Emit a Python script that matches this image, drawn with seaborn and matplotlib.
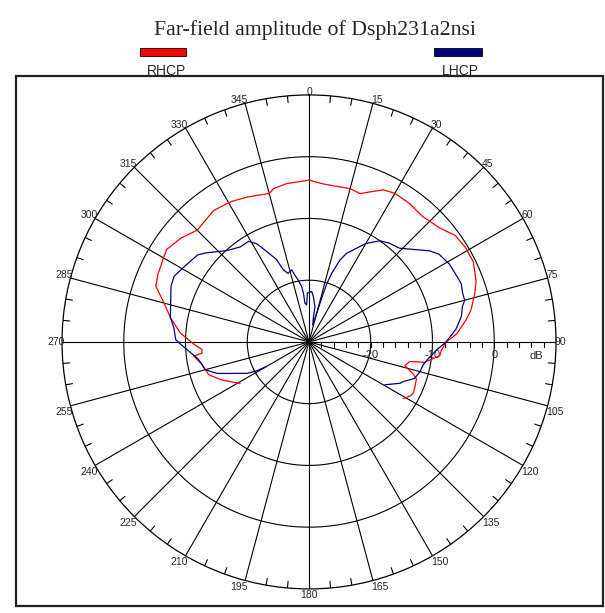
import numpy as np
import pandas as pd
import matplotlib
matplotlib.use("Agg")
import matplotlib.pyplot as plt
import seaborn as sns
from matplotlib.patches import Rectangle
from matplotlib.markers import TICKDOWN

# Диаграмма направленности (угол в градусах, уровень в дБ)
rhcp_angle = [-121, -118, -113, -108, -102, -97, -96, -94, -91, -86, -80, -75, -70, -66,
              -60, -57, -51, -45, -36, -29, -23, -15, -13, -8, 0, 5, 9, 15, 19, 22, 26,
              30, 36, 42, 49, 54, 59, 64, 70, 74, 79, 82, 87, 90, 93.5, 96, 98, 100,
              101, 104, 107, 109, 114, 116, 118, 121]
rhcp_db = [-17.0, -16.1, -14.4, -12.9, -12.3, -11.2, -12.6, -12.6, -11.3, -9.1, -7.2, -5.7,
           -3.6, -3.2, -2.8, -2.5, -3.3, -4.4, -3.7, -4.0, -4.5, -5.1, -4.5, -4.1, -3.8,
           -4.3, -4.4, -4.3, -4.6, -3.8, -2.6, -2.2, -2.3, -2.6, -1.9, -0.7, -0.4, -0.4,
           -1.2, -2.1, -3.3, -4.3, -6.1, -7.8, -8.5, -8.7, -9.9, -11.0, -13.4, -14.0,
           -12.4, -11.6, -11.3, -11.2, -11.4, -12.2]

lhcp_angle = [-120, -119, -117, -109, -105, -99, -95, -91, -89, -84, -80, -68, -64, -59,
              -52, -49, -42, -36, -31, -28, -24, -21.5, -19.6, -17, -13.5, -12, -10, -7.5,
              -6.5, -6, -3.6, -2, 3, 5.4, 9.6, 10, 12.3, 15, 16.4, 17, 18.3, 20.7, 23, 30,
              35, 39, 44, 53, 56, 61, 66, 69, 72.5, 75, 77, 80.6, 85, 90, 93.6, 98, 101,
              105, 109, 113, 114.4, 119.5]
lhcp_db = [-22.1, -20.4, -18.8, -14.3, -12.6, -11.9, -10.7, -9.2, -8.4, -8.0, -7.2, -5.9,
           -5.7, -6.4, -7.1, -8.0, -10.1, -11.0, -11.0, -12.0, -14.4, -15.7, -17.6, -18.4,
           -18.0, -18.9, -19.8, -21.0, -22.1, -23.7, -24.0, -22.1, -21.8, -22.6, -24.2,
           -25.8, -27.2, -25.2, -21.8, -20.1, -18.3, -15.8, -14.4, -11.6, -10.0, -9.4,
           -8.9, -5.5, -4.6, -4.0, -3.8, -3.6, -3.9, -3.9, -4.5, -5.0, -6.1, -7.8, -9.3,
           -10.5, -11.1, -11.4, -11.9, -13.5, -13.8, -15.9]

angle_ticks = list(range(0, 360, 15))
ring_levels = [-20, -10, 0]
ring_labels = ["-20", "-10", "0"]
r_min, r_max = -30, 10

df = pd.concat([
    pd.DataFrame({"theta": np.deg2rad(rhcp_angle), "dB": rhcp_db, "pol": "RHCP"}),
    pd.DataFrame({"theta": np.deg2rad(lhcp_angle), "dB": lhcp_db, "pol": "LHCP"}),
], ignore_index=True)

sns.set_theme(style="white")
plt.rcParams["font.family"] = ["Liberation Sans", "DejaVu Sans"]

fig = plt.figure(figsize=(6.05, 6.13), dpi=100)
ax = fig.add_axes([0.1025, 0.0392, 0.8165, 0.806], projection="polar")
ax.set_theta_zero_location("N")
ax.set_theta_direction(-1)
ax.set_ylim(r_min, r_max)
ax.set_xticks([])
ax.set_yticks([])
ax.grid(False)
ax.spines["polar"].set_color("black")
ax.spines["polar"].set_linewidth(0.9)

# сетка: окружности и лучи
full = np.linspace(0, 2 * np.pi, 721)
for lev in ring_levels:
    ax.plot(full, np.full_like(full, lev), color="black", lw=0.8, zorder=1)
for a in angle_ticks:
    t = np.deg2rad(a)
    ax.plot([t, t], [r_min, r_max], color="black", lw=0.8, zorder=1)
for a in range(0, 360, 5):
    if a % 15:
        t = np.deg2rad(a)
        ax.plot([t, t], [r_max - 1.1, r_max], color="black", lw=0.8, zorder=1)

# метки углов: привязка к точке на внешней окружности
for a in angle_ticks:
    t = np.deg2rad(a)
    s, c = np.sin(t), np.cos(t)
    if s > 0.1:
        ha, dx = "left", -1.5
    elif s < -0.1:
        ha, dx = "right", 2.5
    else:
        ha, dx = "center", 0
    if c > 0.1:
        va, dy = "baseline", 0
    elif c < -0.1:
        va, dy = "top", -1.5
    else:
        va, dy = "center", 0
    ax.annotate(str(a), xy=(t, r_max), xytext=(dx, dy), textcoords="offset pixels",
                ha=ha, va=va, fontsize=7.5)

# шкала дБ вдоль 90°
db_ticks = np.arange(-28, 10, 2)
ax.plot(np.full(len(db_ticks), np.pi / 2), db_ticks, ls="none", marker=TICKDOWN,
        ms=3.5, mew=0.8, color="black", zorder=1)
for lev, lab in zip(ring_levels, ring_labels):
    ax.annotate(lab, xy=(np.pi / 2, lev), xytext=(0, -5.5), textcoords="offset points",
                ha="center", va="top", fontsize=8)
ax.annotate("dB", xy=(np.pi / 2, 6.8), xytext=(0, -6.5), textcoords="offset points",
            ha="center", va="top", fontsize=8)

sns.lineplot(data=df, x="theta", y="dB", hue="pol", sort=False, estimator=None,
             palette={"RHCP": "#ff0000", "LHCP": "#000080"}, linewidth=0.9,
             legend=False, ax=ax, zorder=3)
ax.set_xlabel("")
ax.set_ylabel("")

# рамка, заголовок и легенда
fig.patches.append(Rectangle((0.0264, 0.0114), 0.970, 0.8646, transform=fig.transFigure,
                             fill=False, edgecolor="#222222", lw=1.6))
fig.text(0.52, 0.943, "Far-field amplitude of Dsph231a2nsi", ha="center", va="baseline",
         fontsize=15.7, family=["Liberation Serif", "DejaVu Serif"])
fig.patches.append(Rectangle((0.2314, 0.9087), 0.076, 0.013, transform=fig.transFigure,
                             facecolor="#ff0000", edgecolor="black", lw=0.6))
fig.patches.append(Rectangle((0.7174, 0.9087), 0.0793, 0.013, transform=fig.transFigure,
                             facecolor="#000080", edgecolor="black", lw=0.6))
fig.text(0.2744, 0.8842, "RHCP", ha="center", va="center", fontsize=10)
fig.text(0.7603, 0.8842, "LHCP", ha="center", va="center", fontsize=10)

fig.savefig("out.png", dpi=100)
